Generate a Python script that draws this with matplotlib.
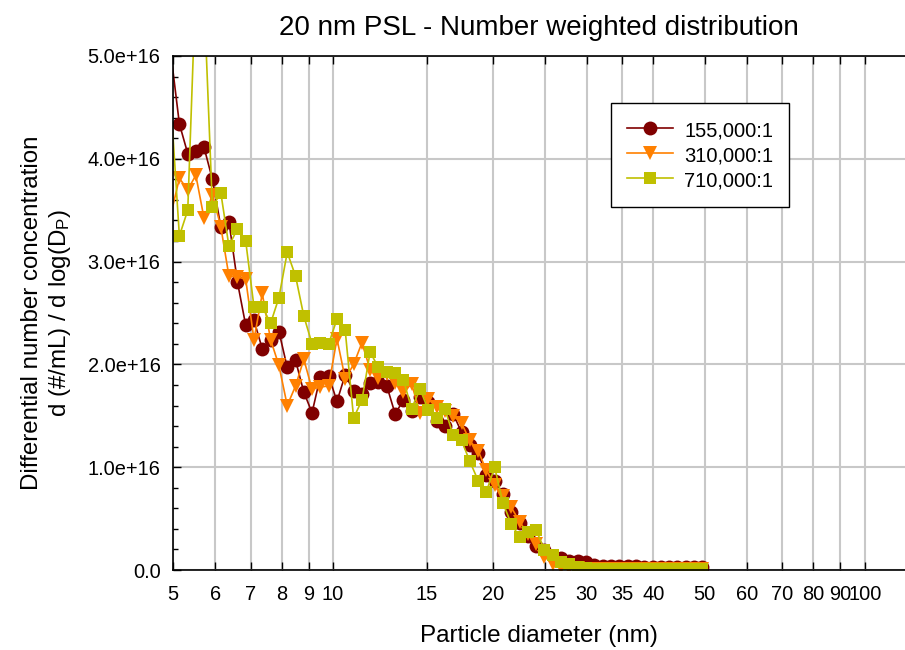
import matplotlib
matplotlib.use("Agg")
import matplotlib.pyplot as plt
import numpy as np
from matplotlib.ticker import FixedLocator, FixedFormatter, MultipleLocator, NullLocator

plt.rcParams["font.family"] = ["Liberation Sans", "DejaVu Sans"]
plt.rcParams["mathtext.fontset"] = "custom"
plt.rcParams["mathtext.rm"] = "Liberation Sans"
plt.rcParams["mathtext.it"] = "Liberation Sans:italic"

# ---------------------------------------------------------------------------
# Data (concentrations in units of 1e16 #/mL)
# ---------------------------------------------------------------------------

DIAMETER = [4.96, 5.14, 5.33, 5.52, 5.72, 5.93, 6.15, 6.37, 6.61, 6.85,
            7.10, 7.36, 7.63, 7.91, 8.20, 8.50, 8.81, 9.13, 9.46, 9.81,
            10.17, 10.54, 10.93, 11.33, 11.74, 12.17, 12.62, 13.08, 13.56, 14.05,
            14.57, 15.10, 15.65, 16.23, 16.82, 17.44, 18.07, 18.74, 19.42, 20.13,
            20.87, 21.63, 22.43, 23.25, 24.10, 24.98, 25.90, 26.85, 27.83, 28.85,
            29.91, 31.00, 32.14, 33.32, 34.54, 35.80, 37.11, 38.47, 39.88, 41.34,
            42.86, 44.43, 46.05, 47.74, 49.49]

C155 = [5.00,
        4.34, 4.05, 4.08, 4.11, 3.80, 3.34, 3.39, 2.80, 2.38, 2.43,
        2.15, 2.24, 2.32, 1.97, 2.04, 1.73, 1.53, 1.88, 1.89, 1.64,
        1.90, 1.74, 1.71, 1.82, 1.83, 1.79, 1.52, 1.65, 1.55, 1.68,
        1.63, 1.45, 1.40, 1.52, 1.34, 1.22, 1.14, 0.92, 0.87, 0.74,
        0.56, 0.46, 0.33, 0.235, 0.19, 0.14, 0.12, 0.09, 0.09, 0.08,
        0.05, 0.04, 0.04, 0.035, 0.035, 0.035, 0.03, 0.03, 0.03, 0.03,
        0.03, 0.03, 0.03, 0.03]

C310 = [3.47,
        3.81, 3.70, 3.84, 3.42, 3.65, 3.34, 2.86, 2.85, 2.83, 2.24,
        2.69, 2.24, 1.99, 1.60, 1.79, 2.05, 1.76, 1.78, 1.79, 2.25,
        1.86, 2.00, 2.21, 1.95, 1.87, 1.91, 1.82, 1.73, 1.81, 1.53,
        1.66, 1.59, 1.55, 1.50, 1.43, 1.26, 1.16, 0.97, 0.83, 0.72,
        0.61, 0.47, 0.35, 0.25, 0.13, 0.06, 0.03, 0.02, 0.015, 0.01,
        0.01, 0.01, 0.01, 0.01, 0.01, 0.01, 0.01, 0.01, 0.01, 0.01,
        0.01, 0.01, 0.01, 0.01]

C710 = [4.50,
        3.25, 3.50, 5.73, 5.57, 3.53, 3.67, 3.15, 3.32, 3.20, 2.56,
        2.56, 2.40, 2.65, 3.09, 2.86, 2.47, 2.20, 2.21, 2.20, 2.44,
        2.33, 1.48, 1.65, 2.12, 1.97, 1.93, 1.92, 1.85, 1.57, 1.76,
        1.56, 1.48, 1.57, 1.31, 1.26, 1.06, 0.87, 0.76, 1.00, 0.65,
        0.45, 0.32, 0.37, 0.39, 0.19, 0.15, 0.08, 0.06, 0.03, 0.015,
        0.01, 0.01, 0.01, 0.01, 0.01, 0.01, 0.01, 0.01, 0.01, 0.01,
        0.01, 0.01, 0.01, 0.01]

SERIES = [
    ("155,000:1", C155, "#800000", "o", 10),
    ("310,000:1", C310, "#FF8000", "v", 10.5),
    ("710,000:1", C710, "#C0C000", "s", 9),
]

X_TICKS = [5, 6, 7, 8, 9, 10, 15, 20, 25, 30, 35, 40, 50, 60, 70, 80, 90, 100]
X_LABELS = ["5", "6", "7", "8", "9", "10", "15", "20", "25", "30", "35", "40",
            "50", "60", "70", "80", "90", "100"]
Y_TICKS = [0, 1e16, 2e16, 3e16, 4e16, 5e16]
Y_LABELS = ["0.0", "1.0e+16", "2.0e+16", "3.0e+16", "4.0e+16", "5.0e+16"]

# ---------------------------------------------------------------------------

fig = plt.figure(figsize=(9.05, 6.5), dpi=100)
ax = fig.add_axes([173 / 905, 1 - 570 / 650, (905 - 173) / 905, (570 - 56) / 650])

x = np.array(DIAMETER)
for label, vals, colour, marker, ms in SERIES:
    # first point lies left of 5 nm: keep its line segment, skip its marker
    ax.plot(x, np.array(vals) * 1e16, color=colour, lw=1.2, marker=marker,
            markersize=ms, markeredgewidth=0, markevery=slice(1, None),
            label=label)

ax.set_xscale("log")
ax.set_xlim(5, 119)
ax.set_ylim(0, 5e16)

ax.xaxis.set_major_locator(FixedLocator(X_TICKS))
ax.xaxis.set_major_formatter(FixedFormatter(X_LABELS))
ax.xaxis.set_minor_locator(NullLocator())
ax.yaxis.set_major_locator(FixedLocator(Y_TICKS))
ax.yaxis.set_major_formatter(FixedFormatter(Y_LABELS))
ax.yaxis.set_minor_locator(MultipleLocator(2e15))

ax.tick_params(axis="both", which="major", direction="in", length=6, width=1,
               labelsize=14.4, top=True, right=False)
ax.tick_params(axis="y", which="minor", direction="in", length=3.5, width=1,
               right=False)
ax.tick_params(axis="x", pad=11)
ax.tick_params(axis="y", pad=9)

ax.grid(True, which="major", color="#c8c8c8", lw=1.5)
ax.set_axisbelow(True)
ax.spines["right"].set_visible(False)
for s in ("left", "bottom", "top"):
    ax.spines[s].set_linewidth(1.2)

ax.set_title("20 nm PSL - Number weighted distribution", fontsize=20, pad=15)
ax.set_xlabel("Particle diameter (nm)", fontsize=17.5, labelpad=15)
ax.set_ylabel("Differential number concentration\nd (#/mL) / d log(D$_\\mathrm{P}$)",
              fontsize=17.4, linespacing=1.25)
ax.yaxis.set_label_coords(-0.136, 0.5)

leg = ax.legend(loc="upper left", bbox_to_anchor=(0.598, 0.909), fontsize=14.5,
                frameon=True, fancybox=False, framealpha=1, edgecolor="black",
                borderaxespad=0, borderpad=0.8, labelspacing=0.2,
                handleheight=1.22, handlelength=2.3, handletextpad=0.55)
leg.get_frame().set_linewidth(1.0)

fig.savefig("out.png", dpi=100)
